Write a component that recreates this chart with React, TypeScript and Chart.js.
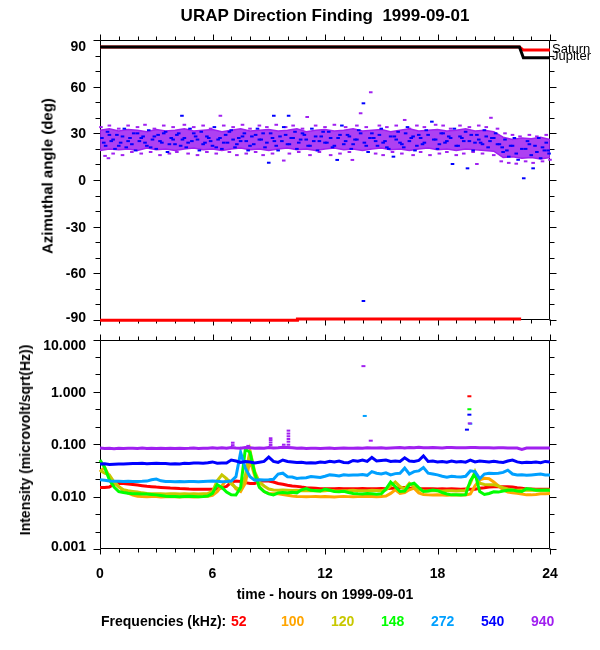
import React, { useEffect, useRef } from "react";
import { Chart, registerables } from "chart.js";

Chart.register(...registerables);

const FONT = '"Liberation Sans", Arial, Helvetica, sans-serif';

// ---------- shared time grid (hours) for the intensity panel ----------
const hours = [
  0, 0.25, 0.5, 0.75, 1, 1.25, 1.5, 1.75, 2, 2.25, 2.5, 2.75, 3, 3.25, 3.5, 3.75,
  4, 4.25, 4.5, 4.75, 5, 5.25, 5.5, 5.75, 6, 6.25, 6.5, 6.75, 7, 7.25, 7.5, 7.75,
  8, 8.25, 8.5, 8.75, 9, 9.25, 9.5, 9.75, 10, 10.25, 10.5, 10.75, 11, 11.25, 11.5, 11.75,
  12, 12.25, 12.5, 12.75, 13, 13.25, 13.5, 13.75, 14, 14.25, 14.5, 14.75, 15, 15.25, 15.5, 15.75,
  16, 16.25, 16.5, 16.75, 17, 17.25, 17.5, 17.75, 18, 18.25, 18.5, 18.75, 19, 19.25, 19.5, 19.75,
  20, 20.25, 20.5, 20.75, 21, 21.25, 21.5, 21.75, 22, 22.25, 22.5, 22.75, 23, 23.25, 23.5, 23.75,
  24,
];

// ---------- intensity series (microvolt/sqrt(Hz)) ----------
const f52 = [
  0.0149, 0.0149, 0.0152, 0.0175, 0.018, 0.0178, 0.0174, 0.017, 0.0166, 0.0162, 0.0158, 0.0155,
  0.0152, 0.015, 0.0148, 0.0146, 0.0145, 0.0143, 0.0142, 0.014, 0.0139, 0.0139, 0.0138, 0.0138,
  0.0138, 0.014, 0.0148, 0.0157, 0.019, 0.0198, 0.0195, 0.0185, 0.0178, 0.0178, 0.0195, 0.02,
  0.0198, 0.019, 0.0178, 0.0172, 0.0165, 0.016, 0.0157, 0.0152, 0.0148, 0.0146, 0.0144, 0.0142,
  0.0142, 0.0141, 0.0142, 0.0143, 0.0142, 0.0141, 0.0142, 0.0142, 0.0143, 0.0142, 0.0141, 0.0142,
  0.0143, 0.0142, 0.0145, 0.0145, 0.0147, 0.015, 0.0146, 0.0143, 0.0142, 0.0141, 0.0142, 0.0141,
  0.014, 0.0141, 0.014, 0.0141, 0.014, 0.0139, 0.014, 0.0139, 0.0138, 0.0145, 0.0148, 0.0152,
  0.0155, 0.0155, 0.0155, 0.0154, 0.0152, 0.0148, 0.0145, 0.014, 0.014, 0.0139, 0.0138, 0.0138,
  0.0138,
];
const f100 = [
  0.03, 0.036, 0.024, 0.019, 0.0155, 0.013, 0.0117, 0.0107, 0.0102, 0.01, 0.0099, 0.0101,
  0.01, 0.0098, 0.0099, 0.01, 0.0099, 0.0098, 0.01, 0.0099, 0.0098, 0.0099, 0.0101, 0.0102,
  0.0106, 0.0125, 0.016, 0.021, 0.019, 0.014, 0.0125, 0.018, 0.05, 0.025, 0.0155, 0.0125,
  0.0115, 0.0113, 0.0113, 0.011, 0.0106, 0.0103, 0.0101, 0.01, 0.0099, 0.01, 0.0101, 0.0099,
  0.01, 0.0099, 0.0098, 0.01, 0.0101, 0.01, 0.0099, 0.01, 0.0101, 0.0102, 0.0101, 0.01,
  0.0101, 0.0103, 0.0115, 0.0135, 0.0115, 0.012, 0.0135, 0.0145, 0.0118, 0.011, 0.0108, 0.0107,
  0.0108, 0.0107, 0.0106, 0.0107, 0.0107, 0.0108, 0.0107, 0.0112, 0.016, 0.021, 0.0224, 0.022,
  0.019, 0.016, 0.0135, 0.0122, 0.0118, 0.0116, 0.0112, 0.0108, 0.0108, 0.011, 0.0113, 0.0114,
  0.0115,
];
const f120 = [
  0.032, 0.028, 0.026, 0.019, 0.0155, 0.0135, 0.013, 0.0126, 0.0122, 0.0118, 0.0115, 0.0114,
  0.0113, 0.0114, 0.0112, 0.0113, 0.0114, 0.0112, 0.0113, 0.0112, 0.0113, 0.0112, 0.0114, 0.0115,
  0.0125, 0.02, 0.026, 0.022, 0.0175, 0.0148, 0.0135, 0.025, 0.075, 0.03, 0.019, 0.016,
  0.014, 0.0134, 0.0132, 0.0134, 0.0133, 0.0131, 0.0132, 0.013, 0.0129, 0.0131, 0.013, 0.0128,
  0.013, 0.0132, 0.0129, 0.0128, 0.013, 0.0131, 0.0133, 0.013, 0.0129, 0.013, 0.0132, 0.0131,
  0.013, 0.0135, 0.016, 0.019, 0.0155, 0.014, 0.018, 0.0155, 0.0135, 0.013, 0.0128, 0.013,
  0.0129, 0.0128, 0.013, 0.0129, 0.0128, 0.0129, 0.013, 0.018, 0.03, 0.018, 0.017, 0.0168,
  0.0168, 0.016, 0.0148, 0.014, 0.0134, 0.0133, 0.0134, 0.0132, 0.0133, 0.0134, 0.0133, 0.0132,
  0.0133,
];
const f148 = [
  0.05, 0.036, 0.021, 0.0152, 0.0125, 0.012, 0.0116, 0.0114, 0.0113, 0.0112, 0.0112, 0.011,
  0.0108, 0.0105, 0.0102, 0.0101, 0.0101, 0.0099, 0.0101, 0.0102, 0.0101, 0.01, 0.0101, 0.0103,
  0.0115, 0.017, 0.015, 0.0122, 0.0108, 0.0107, 0.015, 0.08, 0.07, 0.028, 0.015, 0.0125,
  0.0113, 0.0108, 0.0118, 0.012, 0.0117, 0.0121, 0.0118, 0.0135, 0.0142, 0.0132, 0.013, 0.0128,
  0.014, 0.0132, 0.0125, 0.0124, 0.0126, 0.012, 0.0115, 0.0113, 0.0112, 0.0115, 0.0113, 0.0111,
  0.0113, 0.014, 0.019, 0.0155, 0.0125, 0.0128, 0.017, 0.018, 0.0148, 0.0125, 0.0128, 0.0134,
  0.013, 0.012, 0.0112, 0.0108, 0.0108, 0.0107, 0.0109, 0.02, 0.028, 0.0125, 0.011, 0.0115,
  0.0124, 0.0122, 0.0128, 0.0132, 0.0134, 0.0128, 0.0125, 0.0142, 0.0138, 0.0133, 0.0132, 0.0134,
  0.0133,
];
const f272 = [
  0.021, 0.0205, 0.0198, 0.0196, 0.0197, 0.0195, 0.0196, 0.0194, 0.0195, 0.0196, 0.0198, 0.021,
  0.0216, 0.02, 0.0195, 0.0194, 0.0193, 0.0195, 0.0192, 0.0194, 0.0195, 0.0193, 0.0195, 0.0197,
  0.0198, 0.0196, 0.0193, 0.0195, 0.0198, 0.024, 0.07, 0.035, 0.024, 0.0205, 0.021, 0.0208,
  0.021, 0.0215, 0.027, 0.028, 0.024, 0.0236, 0.0222, 0.0228, 0.023, 0.0242, 0.0238, 0.0232,
  0.0245, 0.026, 0.0255, 0.0248, 0.0262, 0.0255, 0.026, 0.0258, 0.0265, 0.0255, 0.03, 0.028,
  0.027, 0.0285, 0.026, 0.0275, 0.028, 0.035, 0.027, 0.03, 0.031, 0.036, 0.028, 0.027,
  0.026, 0.0245, 0.0235, 0.0245, 0.024, 0.0238, 0.0245, 0.031, 0.03, 0.022, 0.027, 0.028,
  0.0275, 0.028, 0.029, 0.032, 0.027, 0.026, 0.0262, 0.0255, 0.026, 0.0265, 0.027, 0.0258,
  0.026,
];
const f540 = [
  0.042, 0.0425, 0.041, 0.0415, 0.0418, 0.042, 0.0425, 0.043, 0.0428, 0.0432, 0.0425, 0.043,
  0.0435, 0.043, 0.0428, 0.042, 0.0425, 0.042, 0.0432, 0.043, 0.0438, 0.044, 0.0435, 0.0445,
  0.046, 0.0435, 0.044, 0.0438, 0.05, 0.048, 0.045, 0.047, 0.046, 0.044, 0.0455, 0.047,
  0.057, 0.047, 0.045, 0.05, 0.047, 0.046, 0.045, 0.0455, 0.044, 0.0445, 0.044, 0.046,
  0.045, 0.0475, 0.046, 0.048, 0.045, 0.0445, 0.049, 0.0475, 0.05, 0.047, 0.056, 0.048,
  0.049, 0.05, 0.047, 0.048, 0.047, 0.055, 0.048, 0.047, 0.049, 0.06, 0.047, 0.048,
  0.046, 0.047, 0.0455, 0.048, 0.046, 0.047, 0.0455, 0.05, 0.046, 0.048, 0.047, 0.046,
  0.0475, 0.046, 0.045, 0.048, 0.05, 0.046, 0.0445, 0.0455, 0.045, 0.046, 0.0445, 0.047,
  0.046,
];
const f940 = [
  0.085, 0.083, 0.084, 0.082, 0.084, 0.083, 0.0835, 0.084, 0.083, 0.085, 0.083, 0.0835,
  0.083, 0.084, 0.083, 0.0835, 0.083, 0.084, 0.083, 0.0835, 0.0845, 0.083, 0.0835, 0.084,
  0.086, 0.084, 0.086, 0.084, 0.087, 0.085, 0.084, 0.087, 0.086, 0.084, 0.085, 0.084,
  0.087, 0.085, 0.086, 0.088, 0.087, 0.086, 0.084, 0.085, 0.083, 0.084, 0.0835, 0.083,
  0.084, 0.0845, 0.083, 0.084, 0.085, 0.0835, 0.084, 0.085, 0.084, 0.086, 0.0845, 0.085,
  0.0855, 0.084, 0.085, 0.086, 0.087, 0.085, 0.0865, 0.086, 0.088, 0.086, 0.0855, 0.087,
  0.086, 0.085, 0.0865, 0.087, 0.086, 0.0855, 0.086, 0.087, 0.0865, 0.086, 0.0855, 0.086,
  0.085, 0.0855, 0.086, 0.085, 0.0845, 0.085, 0.08, 0.0845, 0.085, 0.0845, 0.085, 0.0845,
  0.085,
];

// short vertical columns of 940 kHz samples (time, intensity)
const spike940T = [7.08, 7.08, 7.9, 9.1, 9.1, 9.1, 9.1, 9.8, 10.05, 10.05, 10.05, 10.05, 10.05, 10.05];
const spike940V = [0.096, 0.107, 0.093, 0.097, 0.108, 0.12, 0.13, 0.098, 0.098, 0.112, 0.126, 0.142, 0.16, 0.182];

// isolated bursts (time in hours, intensity)
const burst52T = [19.7];
const burst52V = [0.824];
const burst148T = [19.7];
const burst148V = [0.466];
const burst272T = [14.12, 19.75];
const burst272V = [0.347, 0.247];
const burst540T = [19.57, 19.7];
const burst540V = [0.19, 0.367];
const burst940T = [14.05, 14.44, 19.72];
const burst940V = [3.1, 0.117, 0.25];

const freqLabels = ["52", "100", "120", "148", "272", "540", "940"];
const freqColors = ["#ff0000", "#ffa500", "#c8c800", "#00ff00", "#00a0ff", "#0000ff", "#a020f0"];

// ---------- azimuth panel ----------
const planetHours = [0, 22.37, 22.58, 24];
const saturnAngles = [85.5, 85.5, 83.5, 83.5];
const jupiterAngles = [85.5, 85.5, 78.6, 78.6];
const lowerHours = [0, 10.53, 10.53, 22.46];
const lowerAngles = [-90.2, -90.2, -89.4, -89.4];

const bandHours = [
  0, 0.5, 1, 1.5, 2, 2.5, 3, 3.5, 4, 4.5, 5, 5.5, 6, 6.5, 7, 7.5, 8, 8.5, 9, 9.5,
  10, 10.5, 11, 11.5, 12, 12.5, 13, 13.5, 14, 14.5, 15, 15.5, 16, 16.5, 17, 17.5, 18, 18.5, 19, 19.5,
  20, 20.5, 21, 21.5, 22, 22.5, 23, 23.5, 24,
];
const bandHigh = [
  32, 33, 31.5, 32.5, 32, 31, 32.5, 31.5, 32, 33,
  31.5, 32, 32.5, 31, 32, 33, 31.5, 32, 32.5, 31.5,
  32, 33, 31, 32, 32.5, 31.5, 32, 33, 31.5, 32,
  32.5, 31, 32, 33, 31.5, 32, 32.5, 31.5, 32, 33,
  31.5, 32, 31, 27.5, 26, 27, 26.5, 27.5, 26,
];
const bandLow = [
  19, 20, 19.5, 20, 19, 20.5, 19.5, 20, 19, 20,
  20.5, 19.5, 20, 19, 20, 20.5, 19.5, 20, 19, 20,
  20.5, 19.5, 20, 19, 20, 20.5, 19.5, 20, 19, 20,
  20.5, 19.5, 20, 19, 20, 20.5, 19.5, 20, 19, 20,
  19.5, 19, 18.5, 14.5, 15, 14, 14.5, 13.5, 14.5,
];

const blueT = [
  0.1, 0.3, 0.4, 0.6, 0.8, 0.9, 1.1, 1.3, 1.4, 1.6,
  1.8, 1.9, 2.1, 2.3, 2.5, 2.6, 2.8, 3.0, 3.1, 3.3,
  3.5, 3.6, 3.8, 4.0, 4.2, 4.37, 4.4, 4.6, 4.8, 4.9,
  5.1, 5.3, 5.4, 5.6, 5.8, 6.0, 6.1, 6.3, 6.5, 6.7,
  6.8, 7.0, 7.2, 7.4, 7.5, 7.7, 7.9, 8.1, 8.2, 8.4,
  8.6, 8.8, 9.0, 9.1, 9.27, 9.3, 9.5, 9.6, 9.8, 10.0,
  10.06, 10.2, 10.4, 10.5, 10.7, 10.9, 11.1, 11.3, 11.4, 11.6,
  11.8, 12.0, 12.2, 12.4, 12.65, 12.7, 12.9, 13.0, 13.2, 13.4,
  13.6, 13.8, 14.05, 14.05, 14.1, 14.3, 14.5, 14.6, 14.8, 15.0,
  15.2, 15.4, 15.65, 15.7, 15.9, 16.0, 16.2, 16.4, 16.6, 16.8,
  17.0, 17.2, 17.4, 17.7, 17.8, 18.0, 18.2, 18.4, 18.6, 18.8,
  18.9, 19.1, 19.3, 19.5, 19.6, 19.7, 19.9, 20.1, 20.3, 20.5,
  20.7, 20.9, 21.1, 21.3, 21.5, 21.6, 21.8, 21.9, 22.1, 22.3,
  22.6, 22.7, 22.8, 23.0, 23.1, 23.2, 23.4, 23.5, 23.7, 23.8,
  23.95,
];
const blueA = [
  27, 22, 31, 25, 20, 29, 24, 33, 21, 27,
  30, 19, 25, 28, 22, 32, 26, 20, 29, 24,
  31, 18, 27, 23, 30, 41.3, 26, 21, 33, 25,
  28, 19, 31, 24, 27, 22, 34, 26, 20, 29,
  24, 32, 21, 27, 25, 30, 19, 28, 23, 33,
  26, 21, 11.1, 30, 41.3, 25, 19, 28, 34, 23,
  41.3, 27, 31, 20, 26, 29, 22, 33, 25, 19,
  28, 24, 31, 21, 12.9, 27, 35, 23, 29, 20,
  26, 32, 49.3, -77.8, 24, 18, 30, 27, 22, 33,
  25, 20, 15, 28, 31, 24, 21, 34, 27, 19,
  29, 23, 32, 37.5, 26, 20, 30, 24, 28, 10.3,
  33, 22, 27, 31, 7.5, 25, 19, 29, 24, 32,
  21, 27, 30, 23, 18, 26, 15, 22, 27, 13,
  1.1, 20, 25, 16, 7.5, 22, 27, 14, 19, 24,
  17,
];
const blue2T = [
  0.2, 0.5, 0.7, 1.0, 1.2, 1.5, 1.7, 2.0, 2.2, 2.4,
  2.7, 2.9, 3.2, 3.4, 3.7, 3.9, 4.1, 4.3, 4.5, 4.7,
  5.0, 5.2, 5.5, 5.7, 5.9, 6.2, 6.4, 6.6, 6.9, 7.1,
  7.3, 7.6, 7.8, 8.0, 8.3, 8.5, 8.7, 8.9, 9.2, 9.4,
  9.7, 9.9, 10.1, 10.3, 10.6, 10.8, 11.0, 11.2, 11.5, 11.7,
  11.9, 12.1, 12.3, 12.5, 12.8, 13.1, 13.3, 13.5, 13.7, 13.9,
  14.2, 14.4, 14.7, 14.9, 15.1, 15.3, 15.5, 15.8, 16.1, 16.3,
  16.5, 16.7, 16.9, 17.1, 17.3, 17.5, 17.9, 18.1, 18.3, 18.5,
  18.7, 19.0, 19.2, 19.4, 19.8, 20.0, 20.2, 20.4, 20.6, 20.8,
  21.0, 21.2, 21.45, 21.7, 22.0, 22.2, 22.5, 22.9, 23.3, 23.6, 23.9,
];
const blue2A = [
  24, 29, 26, 22, 28, 25, 23, 30, 27, 24,
  21, 28, 25, 30, 23, 26, 29, 22, 27, 24,
  30, 26, 23, 28, 25, 21, 27, 24, 31, 26,
  23, 28, 25, 22, 29, 26, 30, 24, 27, 22,
  25, 29, 23, 27, 24, 30, 26, 22, 28, 25,
  31, 24, 27, 22, 29, 25, 28, 23, 26, 30,
  22, 27, 25, 29, 24, 21, 28, 26, 23, 30,
  25, 28, 22, 27, 24, 29, 26, 23, 30, 25,
  27, 22, 28, 25, 29, 24, 26, 23, 28, 25,
  27, 23, 21, 19, 22, 17, 20, 23, 18, 21, 19,
];
const purpleT = [
  0.05, 0.27, 0.45, 0.5, 0.7, 1.0, 1.2, 1.5, 1.7, 2.0,
  2.2, 2.4, 2.7, 2.9, 3.2, 3.4, 3.7, 3.9, 4.1, 4.5,
  4.7, 5.0, 5.2, 5.5, 5.7, 5.9, 6.2, 6.42, 6.6, 6.9,
  7.1, 7.3, 7.6, 7.8, 8.0, 8.3, 8.5, 8.7, 8.9, 9.2,
  9.4, 9.8, 9.9, 10.1, 10.3, 10.6, 10.8, 11.05, 11.2, 11.5,
  11.7, 12.0, 12.3, 12.5, 12.8, 13.1, 13.3, 13.46, 13.7, 13.9,
  14.2, 14.44, 14.7, 14.9, 15.1, 15.3, 15.6, 15.8, 16.1, 16.25,
  16.5, 16.7, 16.9, 17.1, 17.3, 17.6, 17.9, 18.1, 18.3, 18.5,
  18.7, 19.0, 19.2, 19.4, 19.7, 19.9, 20.1, 20.2, 20.4, 20.6,
  20.85, 21.0, 21.2, 21.4, 21.6, 21.8, 22.0, 22.2, 22.4, 22.7,
  22.9, 23.1, 23.3, 23.6, 23.8, 24.0,
];
const purpleA = [
  34, 15.5, 14, 35, 17, 33, 16, 35, 18, 34,
  17, 35.5, 18, 33, 16, 35, 17, 34, 18, 35.5,
  17, 34, 16, 35, 18, 33, 17, 41.3, 35, 18,
  34, 16, 35.5, 17, 33, 18, 35, 16, 34, 17,
  35.5, 12.5, 34, 17, 35, 18, 33, 40.5, 16, 35,
  18, 34, 16, 35.5, 17, 34, 18, 12.9, 35, 42.9,
  34, 56.4, 17, 35, 16, 34, 18, 35, 17, 38.6,
  33, 16, 35, 18, 34, 16, 35.5, 17, 35, 18,
  33, 16, 35, 17, 34, 18, 10.3, 35, 17, 34,
  40, 16, 33, 12, 30, 11, 29, 10.5, 28, 12,
  29, 11, 28, 12, 29, 13,
];

// ---------- helpers ----------
const pts = (xs: number[], ys: number[]) => xs.map((x, i) => ({ x, y: ys[i] }));

const hourTicks = Array.from({ length: 25 }, (_, h) => ({ v: h, major: h % 6 === 0, label: String(h) }));
const angleTicks = Array.from({ length: 19 }, (_, i) => {
  const v = -90 + i * 10;
  return { v, major: v % 30 === 0, label: v % 30 === 0 ? String(v) : "" };
});
const intensityTicks = Array.from({ length: 13 }, (_, k) => {
  const v = Math.pow(10, -3 + k / 3);
  return { v, major: k % 3 === 0, label: k % 3 === 0 ? v.toFixed(3) : "" };
});

const framePlugin = {
  id: "frame",
  beforeDatasetsDraw(chart: any, _a: any, opts: any) {
    const { ctx, chartArea: a, scales } = chart;
    const xs = scales.x;
    const ys = scales.y;
    const L = Math.round(a.left) + 0.5;
    const R = Math.round(a.right) - 0.5;
    const T = Math.round(a.top) + 0.5;
    const B = Math.round(a.bottom) - 0.5;
    ctx.save();
    ctx.strokeStyle = "#000";
    ctx.lineWidth = 1;
    ctx.beginPath();
    ctx.rect(L, T, R - L, B - T);
    for (const t of opts.xTicks) {
      const x = Math.round(xs.getPixelForValue(t.v)) + 0.5;
      const len = t.major ? 6 : 4;
      ctx.moveTo(x, B);
      ctx.lineTo(x, B + len);
      ctx.moveTo(x, T);
      ctx.lineTo(x, T - len);
    }
    for (const t of opts.yTicks) {
      const y = Math.round(ys.getPixelForValue(t.v)) + 0.5;
      const len = t.major ? 7 : 5;
      ctx.moveTo(L, y);
      ctx.lineTo(L - len, y);
      ctx.moveTo(R, y);
      ctx.lineTo(R + len, y);
    }
    ctx.stroke();
    ctx.fillStyle = "#000";
    ctx.font = "bold 14px " + FONT;
    ctx.textAlign = "right";
    ctx.textBaseline = "middle";
    for (const t of opts.yTicks) {
      if (!t.label) continue;
      let y = ys.getPixelForValue(t.v);
      y = Math.min(Math.max(y, a.top + 6), a.bottom - 3);
      ctx.fillText(t.label, a.left - 14, y + 1);
    }
    if (opts.xLabels) {
      ctx.textAlign = "center";
      for (const t of opts.xTicks) {
        if (!t.major) continue;
        ctx.fillText(t.label, xs.getPixelForValue(t.v), a.bottom + 25);
      }
    }
    ctx.restore();
  },
  afterDatasetsDraw(chart: any, _a: any, opts: any) {
    if (!opts.planetLabels) return;
    const { ctx, chartArea: a, scales } = chart;
    const ys = scales.y;
    ctx.save();
    ctx.fillStyle = "#000";
    ctx.font = "13px " + FONT;
    ctx.textAlign = "left";
    ctx.textBaseline = "middle";
    const ySat = ys.getPixelForValue(saturnAngles[saturnAngles.length - 1]);
    const yJup = ys.getPixelForValue(jupiterAngles[jupiterAngles.length - 1]);
    ctx.fillText("Saturn", a.right + 2, ySat - 1);
    ctx.fillText("Jupiter", a.right + 2, yJup - 1);
    ctx.restore();
  },
};

const lineDs = (label: string, data: any[], color: string, width: number) => ({
  label,
  data,
  showLine: true,
  borderColor: color,
  backgroundColor: color,
  borderWidth: width,
  pointRadius: 0,
  tension: 0,
  clip: false as any,
});
const dotDs = (label: string, data: any[], color: string, r = 1.6, w = 2) => ({
  label,
  data,
  showLine: false,
  pointStyle: "line",
  pointRadius: r,
  pointBorderWidth: w,
  borderColor: color,
  pointBorderColor: color,
  backgroundColor: color,
  clip: false as any,
});

const PURPLE = "#a020f0";

export default function App() {
  const topRef = useRef<HTMLCanvasElement>(null);
  const botRef = useRef<HTMLCanvasElement>(null);

  useEffect(() => {
    const top = new Chart(topRef.current as HTMLCanvasElement, {
      type: "scatter",
      data: {
        datasets: [
          lineDs("Jupiter", pts(planetHours, jupiterAngles), "#000000", 3),
          lineDs("Saturn", pts(planetHours, saturnAngles), "#ff0000", 3),
          lineDs("lower", pts(lowerHours, lowerAngles), "#ff0000", 3),
          dotDs("540 az", pts(blueT, blueA), "#0000ff", 1.8, 2),
          dotDs("540 az core", pts(blue2T, blue2A), "#0000ff", 1.8, 2),
          dotDs("940 az", pts(purpleT, purpleA), PURPLE, 1.8, 2),
          {
            label: "band high",
            data: pts(bandHours, bandHigh),
            showLine: true,
            borderColor: PURPLE,
            borderWidth: 1.5,
            pointRadius: 0,
            tension: 0,
            fill: false,
          },
          {
            label: "band low",
            data: pts(bandHours, bandLow),
            showLine: true,
            borderColor: PURPLE,
            borderWidth: 1.5,
            pointRadius: 0,
            tension: 0,
            fill: "-1",
            backgroundColor: "rgba(160,32,240,0.85)",
          },
        ] as any,
      },
      options: {
        animation: false,
        responsive: false,
        devicePixelRatio: 1,
        events: [],
        layout: { padding: { left: 100, right: 50, top: 40, bottom: 10 } },
        plugins: {
          legend: { display: false },
          tooltip: { enabled: false },
          title: { display: false },
          frame: { xTicks: hourTicks, yTicks: angleTicks, xLabels: false, planetLabels: true },
        } as any,
        scales: {
          x: { type: "linear", min: 0, max: 24, display: false },
          y: { type: "linear", min: -90, max: 90, display: false },
        },
      },
      plugins: [framePlugin as any],
    });

    const series = [f52, f100, f120, f148, f272, f540, f940];
    const bursts: [number[], number[]][] = [
      [burst52T, burst52V], [[], []], [[], []], [burst148T, burst148V],
      [burst272T, burst272V], [burst540T, burst540V], [burst940T, burst940V],
    ];
    const datasets: any[] = [];
    for (let i = series.length - 1; i >= 0; i--) {
      if (bursts[i][0].length) {
        datasets.push(dotDs(freqLabels[i] + " burst", pts(bursts[i][0], bursts[i][1]), freqColors[i], 2, 2));
      }
    }
    datasets.push(dotDs("940 spikes", pts(spike940T, spike940V), freqColors[6], 1.8, 2));
    for (let i = series.length - 1; i >= 0; i--) {
      datasets.push(lineDs(freqLabels[i] + " kHz", pts(hours, series[i]), freqColors[i], 3));
    }

    const bot = new Chart(botRef.current as HTMLCanvasElement, {
      type: "scatter",
      data: { datasets },
      options: {
        animation: false,
        responsive: false,
        devicePixelRatio: 1,
        events: [],
        layout: { padding: { left: 100, right: 50, top: 9.5, bottom: 101 } },
        plugins: {
          legend: { display: false },
          tooltip: { enabled: false },
          title: { display: false },
          frame: { xTicks: hourTicks, yTicks: intensityTicks, xLabels: true, planetLabels: false },
        } as any,
        scales: {
          x: { type: "linear", min: 0, max: 24, display: false },
          y: { type: "logarithmic", min: 0.001, max: 10, display: false },
        },
      },
      plugins: [framePlugin as any],
    });

    return () => {
      top.destroy();
      bot.destroy();
    };
  }, []);

  const abs = (x: number, y: number, extra: any = {}) => ({
    position: "absolute" as const,
    left: x,
    top: y,
    whiteSpace: "pre" as const,
    lineHeight: 1,
    color: "#000",
    ...extra,
  });

  return (
    <div
      style={{
        position: "absolute",
        left: 0,
        top: 0,
        width: 600,
        height: 650,
        background: "#fff",
        fontFamily: FONT,
        overflow: "hidden",
      }}
    >
      <canvas
        ref={topRef}
        width={600}
        height={330}
        style={{ position: "absolute", left: 0, top: 0, width: 600, height: 330 }}
      />
      <canvas
        ref={botRef}
        width={600}
        height={320}
        style={{ position: "absolute", left: 0, top: 330, width: 600, height: 320 }}
      />
      <div style={abs(325, 15, { transform: "translate(-50%,-50%)", fontSize: 17, fontWeight: "bold" })}>
        {"URAP Direction Finding  1999-09-01"}
      </div>
      <div
        style={abs(47, 176, {
          transform: "translate(-50%,-50%) rotate(-90deg)",
          fontSize: 15,
          fontWeight: "bold",
        })}
      >
        Azimuthal angle (deg)
      </div>
      <div
        style={abs(25, 440, {
          transform: "translate(-50%,-50%) rotate(-90deg)",
          fontSize: 14,
          fontWeight: "bold",
        })}
      >
        Intensity (microvolt/sqrt(Hz))
      </div>
      <div style={abs(325, 594, { transform: "translate(-50%,-50%)", fontSize: 14, fontWeight: "bold" })}>
        time - hours on 1999-09-01
      </div>
      <div style={abs(101, 621, { transform: "translateY(-50%)", fontSize: 14, fontWeight: "bold" })}>
        Frequencies (kHz):
      </div>
      {freqLabels.map((f, i) => (
        <div
          key={f}
          style={abs(231 + i * 50, 621, {
            transform: "translateY(-50%)",
            fontSize: 14,
            fontWeight: "bold",
            color: freqColors[i],
          })}
        >
          {f}
        </div>
      ))}
    </div>
  );
}
